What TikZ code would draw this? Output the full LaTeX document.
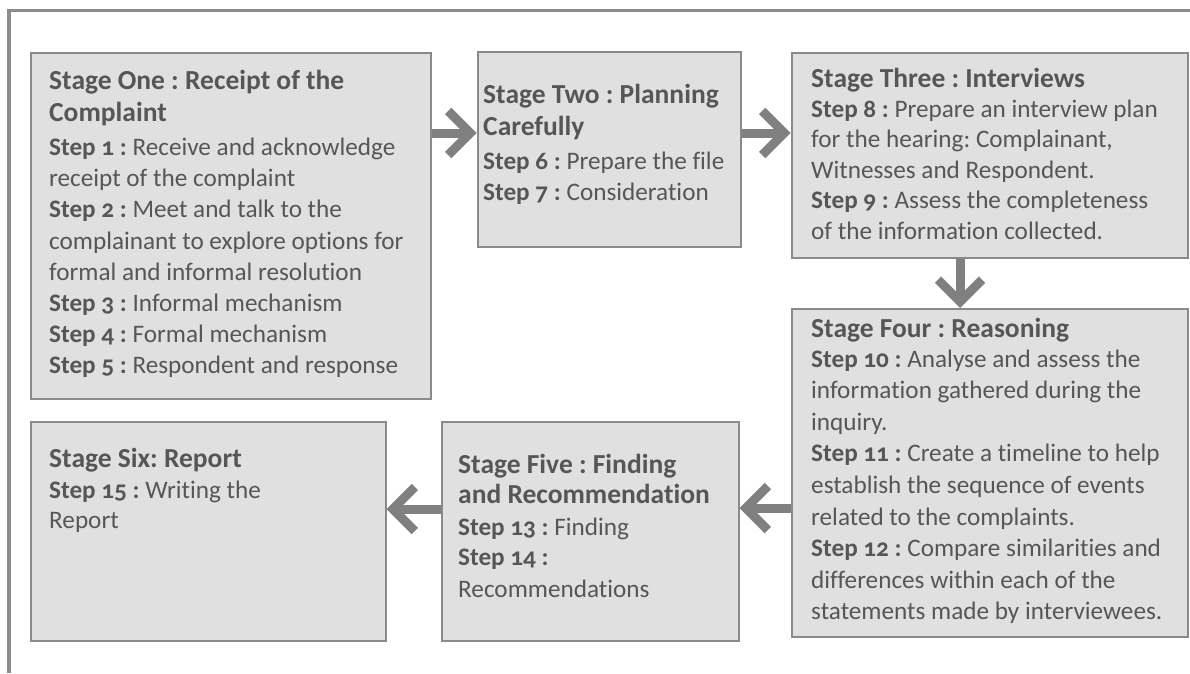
\documentclass[tikz,border=0pt]{standalone}
\usepackage{fontspec}
\setmainfont{Carlito}[Numbers=OldStyle, Ligatures=NoCommon]
\usepackage{tikz}
\usetikzlibrary{arrows.meta}
\frenchspacing
\definecolor{framegray}{RGB}{140, 140, 140}
\definecolor{boxline}{RGB}{138, 138, 138}
\definecolor{boxfill}{RGB}{224, 224, 224}
\definecolor{arrowgray}{RGB}{128, 128, 128}
\definecolor{inkgray}{RGB}{86, 86, 86}
\newcommand{\stagehead}[1]{{\fontsize{27.5}{32}\selectfont\bfseries #1}}
\newcommand{\stepno}[1]{\textbf{#1}}

\begin{document}
\begin{tikzpicture}[x=1pt, y=-1pt,
    stagebox/.style={draw=boxline, fill=boxfill, line width=2pt, inner sep=0pt},
    stagetext/.style={anchor=north west, align=left, inner sep=0pt, text=inkgray,
                      font=\fontsize{25.2}{31.2}\selectfont,
                      execute at begin node={\rule{0pt}{22pt}}},
    flow/.style={draw=arrowgray, line width=9pt,
                 -{Straight Barb[length=22pt, width=44pt]}}]
            % Frame to fix the page:
            \useasboundingbox (0,0) rectangle (1190,673);
            \draw[framegray, line width=3.5pt]      (1190,10.5) -- (9,10.5) -- (9,673);
            % Stage boxes
            \node[stagebox, minimum width=400, minimum height=346.5] (one)   at (230.5,225.75) {};
            \node[stagebox, minimum width=263, minimum height=195]   (two)   at (609,149)      {};
            \node[stagebox, minimum width=396, minimum height=205]   (three) at (989.5,155)    {};
            \node[stagebox, minimum width=396, minimum height=327.5] (four)  at (989.5,472.75) {};
            \node[stagebox, minimum width=297, minimum height=219.5] (five)  at (590,531.25)   {};
            \node[stagebox, minimum width=355, minimum height=219.5] (six)   at (208,531.25)   {};
            % Texts
            \node[stagetext] (onetext) at (49,69.5) {\stagehead{Stage One : Receipt of the}\\[1pt]
                \stagehead{Complaint}\\[3pt]
                \stepno{Step 1 :} Receive and acknowledge\\
                receipt of the complaint\\
                \stepno{Step 2 :} Meet and talk to the\\
                complainant to explore options for\\
                formal and informal resolution\\
                \stepno{Step 3 :} Informal mechanism\\
                \stepno{Step 4 :} Formal mechanism\\
                \stepno{Step 5 :} Respondent and response};
            \node[stagetext] (twotext) at (483,83.5) {\stagehead{Stage Two : Planning}\\[1pt]
                \stagehead{Carefully}\\[3pt]
                \stepno{Step 6 :} Prepare the file\\
                \stepno{Step 7 :} Consideration};
            \node[stagetext, font=\fontsize{25.2}{30.4}\selectfont] (threetext) at (811,67.5) {\stagehead{Stage Three : Interviews}\\
                \stepno{Step 8 :} Prepare an interview plan\\
                for the hearing: Complainant,\\
                Witnesses and Respondent.\\
                \stepno{Step 9 :} Assess the completeness\\
                of the information collected.};
            \node[stagetext, font=\fontsize{25.2}{31.6}\selectfont] (fourtext) at (811,317.5) {\stagehead{Stage Four : Reasoning}\\[-1.5pt]
                \stepno{Step 10 :} Analyse and assess the\\
                information gathered during the\\
                inquiry.\\
                \stepno{Step 11 :} Create a timeline to help\\
                establish the sequence of events\\
                related to the complaints.\\
                \stepno{Step 12 :} Compare similarities and\\
                differences within each of the\\
                statements made by interviewees.};
            \node[stagetext] (fivetext) at (458,453.5) {\stagehead{Stage Five : Finding}\\[-1pt]
                \stagehead{and Recommendation}\\[1pt]
                \stepno{Step 13 :} Finding\\[-1pt]
                \stepno{Step 14 :}\\[1pt]
                Recommendations};
            \node[stagetext] (sixtext) at (49,447.5) {\stagehead{Stage Six: Report}\\
                \stepno{Step 15 :} Writing the\\[-1pt]
                Report};
            % Arrows between stages
            \draw[flow] (one.east |- 0,133)   -- (two.west |- 0,133);
            \draw[flow] (two.east |- 0,133)   -- (three.west |- 0,133);
            \draw[flow] (three.south -| 960,0) -- (four.north -| 960,0);
            \draw[flow] (four.west |- 0,508)  -- (five.east |- 0,508);
            \draw[flow] (five.west |- 0,509)  -- (six.east |- 0,509);
        \end{tikzpicture}
\end{document}
